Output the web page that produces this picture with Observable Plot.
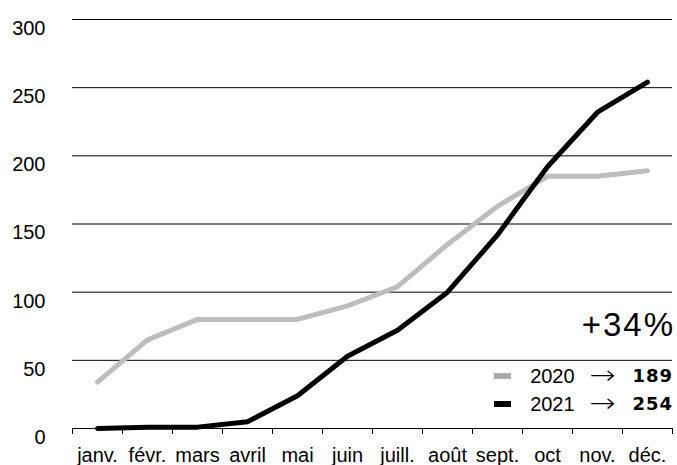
<!DOCTYPE html>
<html>
<head>
<meta charset="utf-8">
<script src="https://cdn.jsdelivr.net/npm/d3@7"></script>
<script src="https://cdn.jsdelivr.net/npm/@observablehq/plot@0.6"></script>
<style>
  html, body { margin: 0; padding: 0; background: #fff; }
  #wrap { position: relative; width: 677px; height: 465px; font-family: "Liberation Sans", Arial, Helvetica, sans-serif; }
  .row { position: absolute; right: 5px; height: 20px; line-height: 20px; font-size: 20px; white-space: nowrap; display: flex; align-items: center; }
  .sw { display: inline-block; width: 17px; height: 6px; margin-right: 19px; }
  .arr { display: inline-block; font-family: "DejaVu Sans", sans-serif; font-weight: 200; font-size: 26px; line-height: 20px; transform: scaleX(1.2); margin: 0 19px 0 17px; position: relative; top: -1px; }
  .num { font-family: "DejaVu Sans", sans-serif; font-weight: 700; font-size: 18px; letter-spacing: 1px; margin-right: -1px; }
  #pct { position: absolute; right: 4px; top: 308px; font-size: 33px; line-height: 33px; letter-spacing: 2px; margin-right: -2px; }
</style>
</head>
<body>
<div id="wrap"></div>
<script>
const months = ["janv.","févr.","mars","avril","mai","juin","juill.","août","sept.","oct","nov.","déc."];
const v2020 = [34,65,80,80,80,90,104,135,163,185,185,189];
const v2021 = [0,1,1,5,24,53,72,100,142,192,232,254];
const yTicks = [0,50,100,150,200,250,300];
const seriesNames = ["2020","2021"];
const seriesColors = ["#bdbdbd","#000000"];
const swatchColors = ["#a9a9a9","#000000"];
const changeLabel = "+34%";

const data = [];
months.forEach((m,i) => {
  data.push({series: "2020", i: i + 0.5, v: v2020[i]});
  data.push({series: "2021", i: i + 0.5, v: v2021[i]});
});

const chart = Plot.plot({
  width: 677,
  height: 465,
  marginLeft: 72,
  marginRight: 5,
  marginTop: 19,
  marginBottom: 37,
  style: {fontSize: "20px", fontFamily: "'Liberation Sans', Arial, Helvetica, sans-serif", color: "#000", background: "#fff"},
  x: {domain: [0, months.length]},
  y: {domain: [0, 300]},
  marks: [
    Plot.gridY(yTicks.filter(d => d > 0), {stroke: "#000", strokeOpacity: 1, strokeWidth: 1}),
    Plot.ruleY([0], {stroke: "#000", strokeWidth: 1}),
    Plot.axisY(yTicks, {tickSize: 0, tickPadding: 0, textAnchor: "end", dx: -27, dy: 9, label: null}),
    Plot.axisX(d3.range(months.length + 1), {tickSize: 6, tickFormat: () => "", label: null, stroke: "#000"}),
    Plot.axisX(months.map((m,i) => i + 0.5), {tickSize: 0, tickPadding: 19, tickFormat: d => months[Math.floor(d)], label: null}),
    Plot.line(data.filter(d => d.series === "2020"), {x: "i", y: "v", stroke: seriesColors[0], strokeWidth: 5}),
    Plot.line(data.filter(d => d.series === "2021"), {x: "i", y: "v", stroke: seriesColors[1], strokeWidth: 5})
  ]
});

const wrap = document.getElementById("wrap");
wrap.appendChild(chart);

const pct = document.createElement("div");
pct.id = "pct";
pct.textContent = changeLabel;
wrap.appendChild(pct);

const finals = [v2020[v2020.length-1], v2021[v2021.length-1]];
const tops = [366, 394];
seriesNames.forEach((name, k) => {
  const row = document.createElement("div");
  row.className = "row";
  row.style.top = tops[k] + "px";
  row.innerHTML = `<span class="sw" style="background:${swatchColors[k]}"></span><span>${name}</span><span class="arr">→</span><span class="num">${finals[k]}</span>`;
  wrap.appendChild(row);
});
</script>
</body>
</html>
